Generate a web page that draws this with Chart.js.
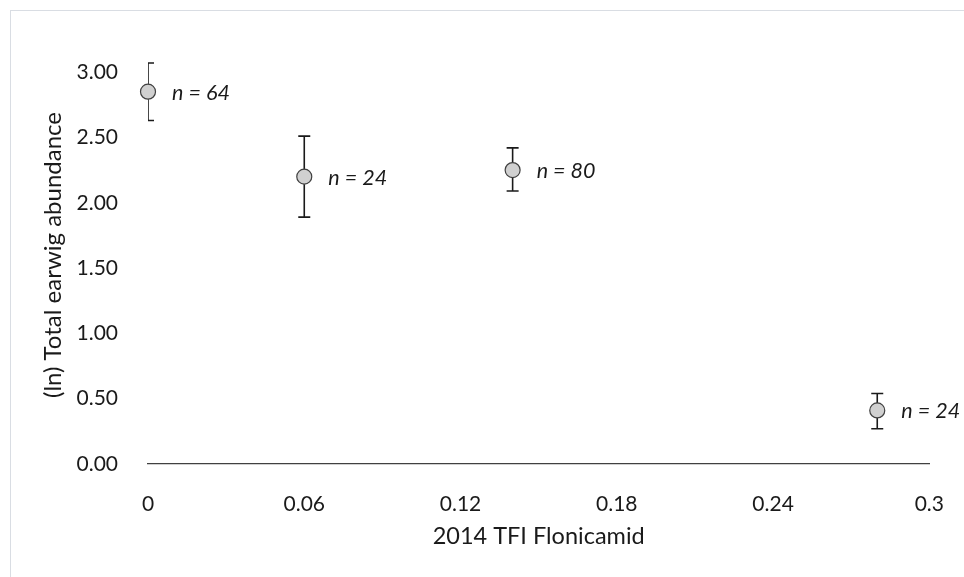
<!DOCTYPE html>
<html>
<head>
<meta charset="utf-8">
<title>Earwig abundance vs TFI Flonicamid</title>
<script src="https://cdn.jsdelivr.net/npm/chart.js@4.4.1/dist/chart.umd.min.js"></script>
<style>
  html, body { margin: 0; padding: 0; background: #fff; }
  #wrap { position: relative; width: 964px; height: 577px; overflow: hidden; }
  #frame {
    position: absolute; left: 10px; top: 10px; width: 970px; height: 600px;
    border-left: 1.5px solid #d9dde3; border-top: 1.5px solid #d9dde3;
    pointer-events: none;
  }
  canvas { position: absolute; left: 0; top: 0; }
</style>
</head>
<body>
<div id="wrap">
  <canvas id="chart" width="964" height="577"></canvas>
  <div id="frame"></div>
</div>
<script>
// Data
const tfiValues = [0, 0.06, 0.14, 0.28];           // x: 2014 TFI Flonicamid
const meanValues = [2.85, 2.20, 2.25, 0.41];       // y: (ln) total earwig abundance
const lowValues = [2.63, 1.89, 2.09, 0.27];        // lower end of error bar
const highValues = [3.07, 2.51, 2.42, 0.54];       // upper end of error bar
const sampleLabels = ['n = 64', 'n = 24', 'n = 80', 'n = 24'];

const xTicks = [0, 0.06, 0.12, 0.18, 0.24, 0.3];
const xTickLabels = ['0', '0.06', '0.12', '0.18', '0.24', '0.3'];
const yTicks = [0, 0.5, 1, 1.5, 2, 2.5, 3];
const yTickLabels = ['0.00', '0.50', '1.00', '1.50', '2.00', '2.50', '3.00'];

const FONT = 'Lato, "Open Sans", sans-serif';
const TEXT = '#1a1a1a';

// Error bars drawn under the markers, clipped to the plot area like Excel does
const errorBarPlugin = {
    id: 'errorBars',
    beforeDatasetsDraw(chart) {
        const { ctx, chartArea, scales: { x, y } } = chart;
        ctx.save();
        ctx.beginPath();
        ctx.rect(chartArea.left, chartArea.top - 20, chartArea.right - chartArea.left, chartArea.bottom - chartArea.top + 20);
        ctx.clip();
        ctx.strokeStyle = '#1a1a1a';
        ctx.lineWidth = 1.6;
        const cap = 6;
        tfiValues.forEach((v, i) => {
            const px = x.getPixelForValue(v);
            const lo = y.getPixelForValue(lowValues[i]);
            const hi = y.getPixelForValue(highValues[i]);
            ctx.beginPath();
            ctx.moveTo(px, lo);
            ctx.lineTo(px, hi);
            ctx.moveTo(px - cap, hi);
            ctx.lineTo(px + cap, hi);
            ctx.moveTo(px - cap, lo);
            ctx.lineTo(px + cap, lo);
            ctx.stroke();
        });
        ctx.restore();
    }
};

// "n = .." labels next to each point
const sampleLabelPlugin = {
    id: 'sampleLabels',
    afterDatasetsDraw(chart) {
        const { ctx, scales: { x, y } } = chart;
        ctx.save();
        ctx.font = 'italic 21.5px ' + FONT;
        ctx.fillStyle = TEXT;
        ctx.textAlign = 'left';
        ctx.textBaseline = 'middle';
        tfiValues.forEach((v, i) => {
            ctx.fillText(sampleLabels[i], x.getPixelForValue(v) + 24, y.getPixelForValue(meanValues[i]) + 1);
        });
        ctx.restore();
    }
};

const ctx = document.getElementById('chart').getContext('2d');
new Chart(ctx, {
    type: 'scatter',
    data: {
        datasets: [{
            data: tfiValues.map((v, i) => ({ x: v, y: meanValues[i] })),
            clip: false,
            pointRadius: 7.5,
            pointHoverRadius: 7.5,
            pointBackgroundColor: '#d0d0d0',
            pointBorderColor: '#404040',
            pointBorderWidth: 1.2,
        }],
    },
    options: {
        responsive: false,
        animation: false,
        devicePixelRatio: 1,
        layout: { padding: { top: 46, right: 34.5, bottom: 0, left: 0 } },
        plugins: {
            legend: { display: false },
            tooltip: { enabled: false },
        },
        scales: {
            x: {
                type: 'linear',
                min: 0,
                max: 0.3,
                grid: { display: false },
                border: { display: true, color: '#404040', width: 1.3 },
                afterBuildTicks: scale => { scale.ticks = xTicks.map(v => ({ value: v })); },
                afterFit: scale => { scale.height = 113; },
                ticks: {
                    padding: 20,
                    maxRotation: 0,
                    autoSkip: false,
                    color: TEXT,
                    font: { family: FONT, size: 21 },
                    callback: (value, index) => xTickLabels[index],
                },
                title: {
                    display: true,
                    text: '2014 TFI Flonicamid',
                    color: TEXT,
                    font: { family: FONT, size: 23.5 },
                    padding: { top: 0, bottom: 26 },
                },
            },
            y: {
                type: 'linear',
                min: 0,
                max: 3.2,
                grid: { display: false },
                border: { display: false },
                afterBuildTicks: scale => { scale.ticks = yTicks.map(v => ({ value: v })); },
                afterFit: scale => { scale.width = 148; },
                ticks: {
                    padding: 22,
                    autoSkip: false,
                    color: TEXT,
                    font: { family: FONT, size: 21 },
                    callback: (value, index) => yTickLabels[index],
                },
                title: {
                    display: true,
                    text: '(ln) Total earwig abundance',
                    color: TEXT,
                    font: { family: FONT, size: 24 },
                    padding: { top: 38.5, bottom: 0 },
                },
            },
        },
    },
    plugins: [errorBarPlugin, sampleLabelPlugin],
});
</script>
</body>
</html>
